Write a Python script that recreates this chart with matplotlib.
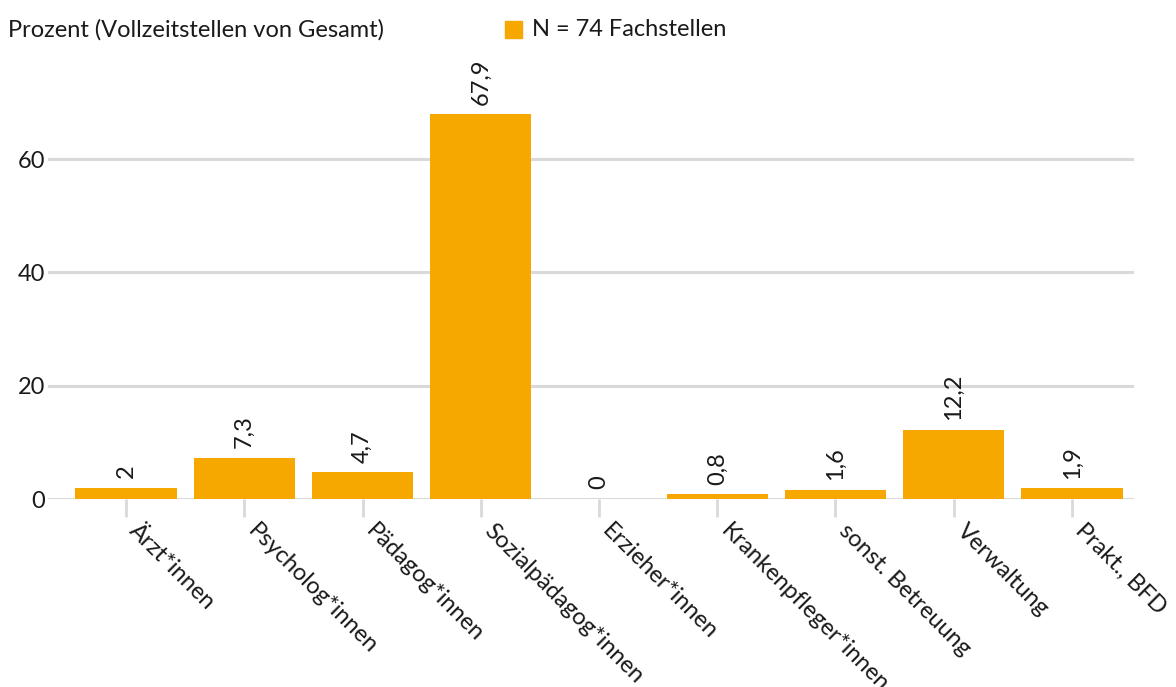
import matplotlib
matplotlib.use("Agg")
import matplotlib.pyplot as plt
from matplotlib.patches import Rectangle
from matplotlib.transforms import ScaledTranslation

plt.rcParams['font.family'] = ['Lato', 'DejaVu Sans']

categories = ["Ärzt*innen", "Psycholog*innen", "Pädagog*innen", "Sozialpädagog*innen",
              "Erzieher*innen", "Krankenpfleger*innen", "sonst. Betreuung", "Verwaltung", "Prakt., BFD"]
values = [2, 7.3, 4.7, 67.9, 0, 0.8, 1.6, 12.2, 1.9]
series_name = "N = 74 Fachstellen"
y_title = "Prozent (Vollzeitstellen von Gesamt)"
yticks = [0, 20, 40, 60]

W, H = 1176, 687
fig = plt.figure(figsize=(W/100, H/100), dpi=100)
x0, x1, yb, yt = 48, 1134, 499, 74
ax = fig.add_axes([x0/W, 1 - yb/H, (x1-x0)/W, (yb-yt)/H])
ymax = (yb - yt) / ((499 - 159) / 60)
ax.set_ylim(0, ymax)
step = 118.25
ax.set_xlim((x0-126)/step, (x1-126)/step)

color = '#F6A800'
fs = 17
txtc = '#1a1a1a'
xs = list(range(len(categories)))
ax.bar(xs, values, width=0.855, color=color, zorder=3)

for x, v in zip(xs, values):
    lbl = (f"{v:g}").replace('.', ',')
    ax.annotate(lbl, (x, v), xytext=(0, 7), textcoords='offset points', rotation=90,
                ha='center', va='bottom', fontsize=fs, color=txtc)

for s in ax.spines.values():
    s.set_visible(False)
ax.set_yticks(yticks)
ax.set_yticklabels([str(t) for t in yticks], fontsize=fs, color=txtc)
ax.tick_params(axis='y', length=0, pad=2)
ax.yaxis.grid(True, color='#d9d9d9', linewidth=2.2, zorder=0)
ax.set_axisbelow(True)

ax.set_xticks(xs)
ax.set_xticklabels(categories, rotation=-45, ha='left', va='top', rotation_mode='anchor',
                   fontsize=fs, color=txtc)
ax.tick_params(axis='x', length=13, width=2, color='#d9d9d9', pad=2)
off = ScaledTranslation(14/100, 0, fig.dpi_scale_trans)
for t in ax.get_xticklabels():
    t.set_transform(t.get_transform() + off)

fig.text(8/W, 1 - 30/H, y_title, fontsize=fs, va='center', ha='left', color=txtc)
fig.patches.append(Rectangle((505/W, 1 - 38/H), 17/W, 17/H, transform=fig.transFigure,
                             color=color, figure=fig))
fig.text(532/W, 1 - 30/H, series_name, fontsize=fs, va='center', ha='left', color=txtc)

fig.savefig('out.png', dpi=100)
